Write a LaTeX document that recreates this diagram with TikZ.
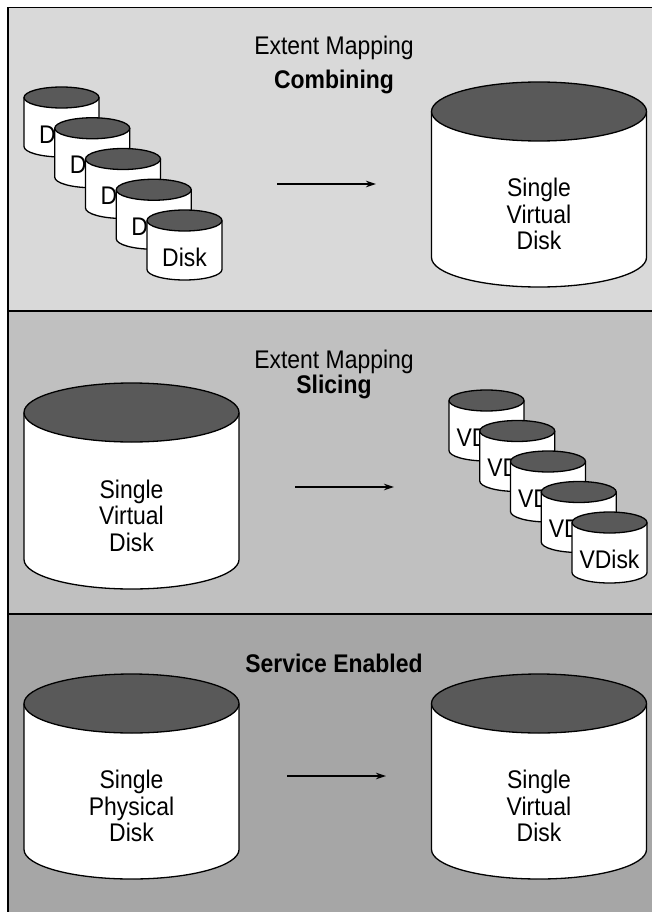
\documentclass[tikz,border=0pt]{standalone}
\usepackage{fontspec}
\setmainfont[FakeStretch=0.9]{Liberation Sans}
\usetikzlibrary{arrows.meta}
\definecolor{panelA}{HTML}{D9D9D9}
\definecolor{panelB}{HTML}{C0C0C0}
\definecolor{panelC}{HTML}{A6A6A6}
\definecolor{disktop}{HTML}{595959}
\tikzset{
  cylline/.style={draw=black,line width=1.3pt},
  lbl/.style={inner sep=0pt,font=\fontsize{25.5}{26.5}\selectfont,align=center},
  ttl/.style={inner sep=0pt,font=\fontsize{25.5}{26.5}\selectfont,anchor=base},
  flow/.style={line width=1.2pt,-{Stealth[length=10pt,width=6.5pt]}},
  frameline/.style={line width=1.8pt}
}
\newcommand{\diskcyl}[6]{%
  \coordinate (#1) at (#2,#3);
  \filldraw[cylline,fill=white] ({#2-#4},{#3+#5}) -- ({#2-#4},{#3+#6-#5})
     arc[start angle=180,end angle=360,x radius=#4pt,y radius=#5pt] -- ({#2+#4},{#3+#5});
  \filldraw[cylline,fill=disktop] (#2,{#3+#5}) ellipse[x radius=#4pt,y radius=#5pt];
}
\begin{document}
\begin{tikzpicture}[x=1pt,y=-1pt]
\useasboundingbox (0,0) rectangle (652,912);
% panels
\fill[panelA] (8,7.5) rectangle (670,311);
\fill[panelB] (8,311) rectangle (670,614);
\fill[panelC] (8,614) rectangle (670,930);
\draw[frameline] (8,930) -- (8,7.5) -- (670,7.5);
\draw[frameline] (8,311) -- (670,311);
\draw[frameline] (8,614) -- (670,614);

% ---- top panel: combining
\node[ttl] (t1a) at (334,55) {Extent Mapping};
\node[ttl] (t1b) at (334,89) {\bfseries Combining};
\foreach \i in {0,...,4}{
  \pgfmathsetmacro{\cx}{61.5+30.75*\i}
  \pgfmathsetmacro{\ty}{87+30.75*\i}
  \diskcyl{sd\i}{\cx}{\ty}{37.5}{10.5}{70}
  \node[lbl] (sdl\i) at (\cx,{\ty+47}) {Disk};
}
\coordinate (a1s) at (277,184);
\coordinate (a1e) at (376,184);
\draw[flow] (a1s) -- (a1e);
\diskcyl{bigA}{539}{82}{107.5}{29.5}{205}
\node[lbl] (bigAl) at (539,214) {Single\\Virtual\\Disk};

% ---- middle panel: slicing
\node[ttl] (t2a) at (334,368) {Extent Mapping};
\node[ttl] (t2b) at (334,393) {\bfseries Slicing};
\diskcyl{bigB}{131.5}{383}{107.5}{29.5}{206}
\node[lbl] (bigBl) at (131.5,515.5) {Single\\Virtual\\Disk};
\coordinate (a2s) at (295,487);
\coordinate (a2e) at (394,487);
\draw[flow] (a2s) -- (a2e);
\foreach \i in {0,...,4}{
  \pgfmathsetmacro{\cx}{486.5+30.75*\i}
  \pgfmathsetmacro{\ty}{390+30.5*\i}
  \diskcyl{vd\i}{\cx}{\ty}{37.5}{10.5}{71}
  \node[lbl] (vdl\i) at (\cx,{\ty+47}) {VDisk};
}

% ---- bottom panel: service enabled
\node[ttl] (t3) at (334,672) {\bfseries Service Enabled};
\diskcyl{bigC}{131.5}{674}{107.5}{29.5}{205}
\node[lbl] (bigCl) at (131.5,806) {Single\\Physical\\Disk};
\coordinate (a3s) at (287,776);
\coordinate (a3e) at (386,776);
\draw[flow] (a3s) -- (a3e);
\diskcyl{bigD}{539}{674}{107.5}{29.5}{205}
\node[lbl] (bigDl) at (539,806) {Single\\Virtual\\Disk};
\end{tikzpicture}
\end{document}
